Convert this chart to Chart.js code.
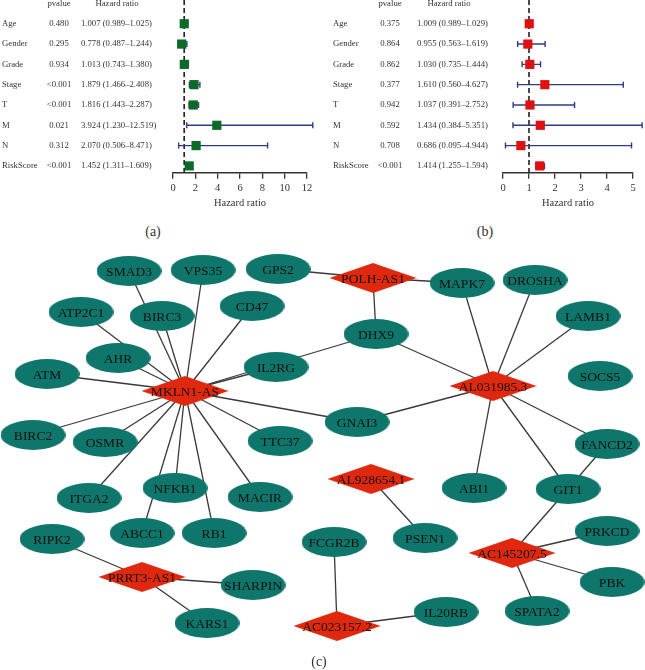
<!DOCTYPE html>
<html>
<head>
<meta charset="utf-8">
<title>Cox regression forest plots and lncRNA-mRNA network</title>
<script src="https://cdn.jsdelivr.net/npm/chart.js"></script>
<style>
    body { margin: 0; background: #fff; }
    #wrap { position: relative; width: 645px; height: 670px; overflow: hidden; font-family: 'Liberation Serif', serif; }
    canvas { position: absolute; }
    .tag { position: absolute; font-size: 14px; line-height: 1; color: #333; transform: translate(-50%, -50%); }
</style>
</head>
<body>
<div id="wrap">
    <canvas id="forestA" width="320" height="214" style="left:0;top:0"></canvas>
    <canvas id="forestB" width="325" height="214" style="left:320px;top:0"></canvas>
    <canvas id="network" width="645" height="430" style="left:0;top:240px"></canvas>
    <div class="tag" style="left:153px;top:232px">(a)</div>
    <div class="tag" style="left:485px;top:232px">(b)</div>
    <div class="tag" style="left:319px;top:662px">(c)</div>
</div>
<script>
    // forest plot data (univariate = a, multivariate = b)
    const variables = ['Age', 'Gender', 'Grade', 'Stage', 'T', 'M', 'N', 'RiskScore'];

    const pvalA = ['0.480', '0.295', '0.934', '<0.001', '<0.001', '0.021', '0.312', '<0.001'];
    const hrA = [1.007, 0.778, 1.013, 1.879, 1.816, 3.924, 2.070, 1.452];
    const lowA = [0.989, 0.487, 0.743, 1.466, 1.443, 1.230, 0.506, 1.311];
    const highA = [1.025, 1.244, 1.380, 2.408, 2.287, 12.519, 8.471, 1.609];

    const pvalB = ['0.375', '0.864', '0.862', '0.377', '0.942', '0.592', '0.708', '<0.001'];
    const hrB = [1.009, 0.955, 1.030, 1.610, 1.037, 1.434, 0.686, 1.414];
    const lowB = [0.989, 0.563, 0.735, 0.560, 0.391, 0.384, 0.095, 1.255];
    const highB = [1.029, 1.619, 1.444, 4.627, 2.752, 5.351, 4.944, 1.594];

    // network: node layout (x, y in panel units)
    const nodeNames = ['SMAD3', 'VPS35', 'GPS2', 'CD47', 'ATP2C1', 'BIRC3', 'AHR', 'ATM', 'IL2RG',
        'MAPK7', 'DROSHA', 'DHX9', 'LAMB1', 'SOCS5', 'GNAI3', 'BIRC2', 'OSMR', 'TTC37', 'FANCD2',
        'NFKB1', 'ITGA2', 'MACIR', 'ABI1', 'GIT1', 'ABCC1', 'RB1', 'RIPK2', 'FCGR2B', 'PSEN1',
        'PRKCD', 'SHARPIN', 'PBK', 'KARS1', 'SPATA2', 'IL20RB'];
    const nodeX = [129, 203, 278, 252, 81, 162, 118, 47, 276,
        462, 535, 376, 588, 600, 357, 33, 105, 280, 607,
        175, 89, 260, 474, 568, 142, 214, 52, 334, 425,
        607, 253, 612, 207, 537, 446];
    const nodeY = [31, 30, 29, 66, 72, 76, 118, 134, 127,
        43, 40, 94, 76, 136, 182, 195, 202, 201, 204,
        248, 258, 257, 248, 249, 293, 293, 299, 302, 298,
        291, 345, 342, 383, 371, 372];

    const lncNames = ['MKLN1-AS', 'POLH-AS1', 'AL031985.3', 'AL928654.1', 'AC145207.5', 'PRRT3-AS1', 'AC023157.2'];
    const lncX = [185, 373, 493, 371, 512, 142, 337];
    const lncY = [151, 38, 146, 239, 313, 337, 386];

    const edges = [
        ['MKLN1-AS', 'SMAD3'], ['MKLN1-AS', 'BIRC3'], ['MKLN1-AS', 'VPS35'], ['MKLN1-AS', 'CD47'],
        ['MKLN1-AS', 'ATP2C1'], ['MKLN1-AS', 'AHR'], ['MKLN1-AS', 'ATM'], ['MKLN1-AS', 'IL2RG'],
        ['MKLN1-AS', 'DHX9'], ['MKLN1-AS', 'GNAI3'], ['MKLN1-AS', 'TTC37'], ['MKLN1-AS', 'MACIR'],
        ['MKLN1-AS', 'RB1'], ['MKLN1-AS', 'NFKB1'], ['MKLN1-AS', 'ABCC1'], ['MKLN1-AS', 'ITGA2'],
        ['MKLN1-AS', 'OSMR'], ['MKLN1-AS', 'BIRC2'],
        ['POLH-AS1', 'GPS2'], ['POLH-AS1', 'MAPK7'], ['POLH-AS1', 'DHX9'],
        ['AL031985.3', 'DHX9'], ['AL031985.3', 'MAPK7'], ['AL031985.3', 'DROSHA'], ['AL031985.3', 'LAMB1'],
        ['AL031985.3', 'GNAI3'], ['AL031985.3', 'FANCD2'], ['AL031985.3', 'ABI1'], ['AL031985.3', 'GIT1'],
        ['GIT1', 'FANCD2'], ['AC145207.5', 'GIT1'], ['AC145207.5', 'PRKCD'], ['AC145207.5', 'PBK'],
        ['AC145207.5', 'SPATA2'], ['AL928654.1', 'PSEN1'], ['AC023157.2', 'FCGR2B'], ['AC023157.2', 'IL20RB'],
        ['PRRT3-AS1', 'RIPK2'], ['PRRT3-AS1', 'SHARPIN'], ['PRRT3-AS1', 'KARS1']
    ];

    const serif = "'Liberation Serif', 'DejaVu Serif', serif";
    const textColor = '#333';
    const barColor = '#2f3b86';

    function hrLabel(hr, lo, hi) {
        return `${hr.toFixed(3)} (${lo.toFixed(3)}\u2013${hi.toFixed(3)})`;
    }

    function forestChart(id, pvals, hr, low, high, color, xMax, cols) {
        const table = {
            id: 'forestTable',
            beforeDatasetsDraw(chart) {
                const { ctx, chartArea } = chart;
                const xs = chart.scales.x;
                const ys = chart.scales.y;
                ctx.save();
                // reference line at HR = 1
                ctx.strokeStyle = '#111';
                ctx.lineWidth = 1.5;
                ctx.setLineDash([5, 3]);
                ctx.beginPath();
                ctx.moveTo(xs.getPixelForValue(1), chartArea.top);
                ctx.lineTo(xs.getPixelForValue(1), chartArea.bottom);
                ctx.stroke();
                ctx.setLineDash([]);
                // confidence intervals
                ctx.strokeStyle = barColor;
                ctx.lineWidth = 1.4;
                variables.forEach((v, i) => {
                    const y = ys.getPixelForValue(i);
                    const x1 = xs.getPixelForValue(low[i]);
                    const x2 = xs.getPixelForValue(high[i]);
                    ctx.beginPath();
                    ctx.moveTo(x1, y); ctx.lineTo(x2, y);
                    ctx.moveTo(x1, y - 3); ctx.lineTo(x1, y + 3);
                    ctx.moveTo(x2, y - 3); ctx.lineTo(x2, y + 3);
                    ctx.stroke();
                });
                ctx.restore();
            },
            afterDraw(chart) {
                const { ctx } = chart;
                const ys = chart.scales.y;
                ctx.save();
                ctx.fillStyle = textColor;
                ctx.font = `8.7px ${serif}`;
                ctx.textBaseline = 'middle';
                ctx.textAlign = 'center';
                ctx.fillText('pvalue', cols.p, 4);
                ctx.fillText('Hazard ratio', cols.hrHead, 4);
                variables.forEach((v, i) => {
                    const y = ys.getPixelForValue(i);
                    ctx.textAlign = 'left';
                    ctx.fillText(v, cols.label, y);
                    ctx.fillText(hrLabel(hr[i], low[i], high[i]), cols.hr, y);
                    ctx.textAlign = 'center';
                    ctx.fillText(pvals[i], cols.p, y);
                });
                ctx.restore();
            }
        };

        return new Chart(document.getElementById(id), {
            type: 'scatter',
            data: {
                datasets: [{
                    data: hr.map((h, i) => ({ x: h, y: i })),
                    pointStyle: 'rect',
                    pointRadius: 6.5,
                    borderWidth: 0,
                    backgroundColor: color,
                    borderColor: color,
                    clip: false
                }]
            },
            options: {
                responsive: false,
                animation: false,
                layout: { autoPadding: false, padding: { left: cols.left, right: cols.right, top: 0, bottom: 0 } },
                plugins: { legend: { display: false }, tooltip: { enabled: false } },
                scales: {
                    x: {
                        type: 'linear',
                        min: 0,
                        max: xMax,
                        ticks: { stepSize: xMax > 6 ? 2 : 1, color: textColor, padding: 3, font: { family: serif, size: 10.5 } },
                        grid: { display: true, drawOnChartArea: false, drawTicks: true, tickLength: 6, color: '#333', lineWidth: 1.3 },
                        border: { display: true, color: '#333', width: 1.5 },
                        title: { display: true, text: 'Hazard ratio', color: textColor, padding: { top: 0, bottom: 4 }, font: { family: serif, size: 10.5 } }
                    },
                    y: { type: 'linear', display: false, reverse: true, min: -1.17, max: 7.34 }
                }
            },
            plugins: [table]
        });
    }

    forestChart('forestA', pvalA, hrA, lowA, highA, '#0b6a28', 12,
        { left: 173, right: 13, label: 2, p: 59, hr: 81, hrHead: 117 });
    forestChart('forestB', pvalB, hrB, lowB, highB, '#e01010', 5,
        { left: 183, right: 12, label: 13, p: 70, hr: 97, hrHead: 129 });

    // network
    function shapeImage(w, h, color, diamond) {
        const c = document.createElement('canvas');
        c.width = w; c.height = h;
        const g = c.getContext('2d');
        g.fillStyle = color;
        g.beginPath();
        if (diamond) {
            g.moveTo(w / 2, 0); g.lineTo(w, h / 2); g.lineTo(w / 2, h); g.lineTo(0, h / 2);
            g.closePath();
        } else {
            g.ellipse(w / 2, h / 2, w / 2, h / 2, 0, 0, Math.PI * 2);
        }
        g.fill();
        return c;
    }

    const position = {};
    nodeNames.forEach((n, i) => { position[n] = { x: nodeX[i], y: nodeY[i] }; });
    lncNames.forEach((n, i) => { position[n] = { x: lncX[i], y: lncY[i] }; });

    const edgeSets = edges.map(([a, b]) => ({
        data: [position[a], position[b]],
        showLine: true,
        pointRadius: 0,
        borderColor: '#3a3a3a',
        borderWidth: 1.3,
        order: 2
    }));

    const nodeLabels = {
        id: 'nodeLabels',
        afterDatasetsDraw(chart) {
            const { ctx } = chart;
            const xs = chart.scales.x;
            const ys = chart.scales.y;
            ctx.save();
            ctx.fillStyle = '#111';
            ctx.font = `13.5px ${serif}`;
            ctx.textAlign = 'center';
            ctx.textBaseline = 'middle';
            Object.keys(position).forEach(n => {
                ctx.fillText(n, xs.getPixelForValue(position[n].x), ys.getPixelForValue(position[n].y) + 1);
            });
            ctx.restore();
        }
    };

    new Chart(document.getElementById('network'), {
        type: 'scatter',
        data: {
            datasets: [
                {
                    data: nodeNames.map(n => position[n]),
                    pointStyle: shapeImage(65, 30, '#0e766b', false),
                    pointRadius: 10,
                    order: 0
                },
                {
                    data: lncNames.map(n => position[n]),
                    pointStyle: shapeImage(87, 30, '#e0280e', true),
                    pointRadius: 10,
                    order: 0
                },
                ...edgeSets
            ]
        },
        options: {
            responsive: false,
            animation: false,
            layout: { autoPadding: false, padding: 0 },
            plugins: { legend: { display: false }, tooltip: { enabled: false } },
            scales: {
                x: { type: 'linear', display: false, min: 0, max: 645 },
                y: { type: 'linear', display: false, min: 0, max: 430, reverse: true }
            }
        },
        plugins: [nodeLabels]
    });
</script>
</body>
</html>
